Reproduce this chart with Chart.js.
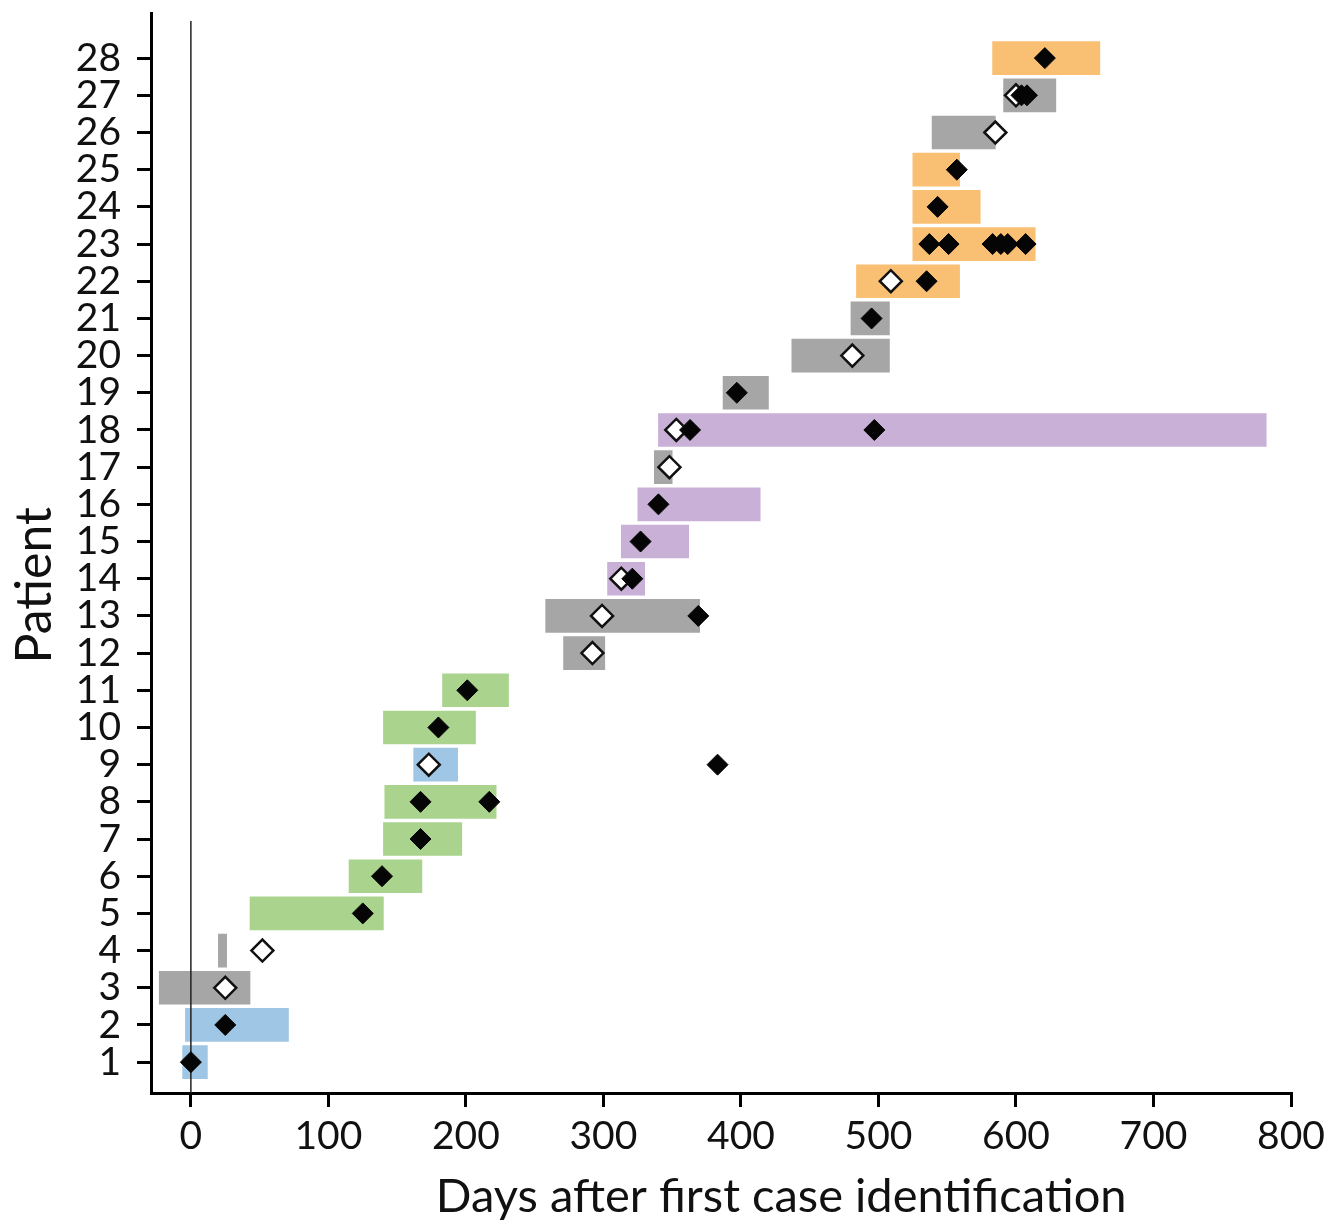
<!DOCTYPE html>
<html>
<head>
<meta charset="utf-8">
<script src="https://cdn.jsdelivr.net/npm/chart.js@4/dist/chart.umd.min.js"></script>
<style>
  html, body { margin: 0; padding: 0; background: #fff; }
  #wrap { width: 1334px; height: 1225px; }
</style>
</head>
<body>
<div id="wrap"><canvas id="chart"></canvas></div>
<script>
'use strict';

// Patients on the y axis
var patients = [1, 2, 3, 4, 5, 6, 7, 8, 9, 10, 11, 12, 13, 14, 15, 16, 17, 18, 19, 20, 21, 22, 23, 24, 25, 26, 27, 28];

// Stay bars (days after first case identification)
var barStart = [-6, -4, -23, 20, 43, 115, 140, 141, 162, 140, 183, 271, 258, 303, 313, 325, 337, 340, 387, 437, 480, 484, 525, 525, 525, 539, 591, 583];
var barEnd   = [12, 71, 43, 26, 140, 168, 197, 222, 194, 207, 231, 301, 370, 330, 362, 414, 350, 782, 420, 508, 508, 559, 614, 574, 559, 585, 629, 661];
var barGroup = ['blue', 'blue', 'gray', 'gray', 'green', 'green', 'green', 'green', 'blue', 'green', 'green', 'gray', 'gray', 'purple',
                'purple', 'purple', 'gray', 'purple', 'gray', 'gray', 'gray', 'orange', 'orange', 'orange', 'orange', 'gray', 'gray', 'orange'];

// Filled diamonds
var filledPatient = [1, 2, 5, 6, 7, 8, 8, 9, 10, 11, 13, 14, 15, 16, 18, 18, 19, 21, 22, 23, 23, 23, 23, 23, 23, 24, 25, 27, 27, 28];
var filledDay     = [0, 25, 125, 139, 167, 167, 217, 383, 180, 201, 369, 321, 327, 340, 363, 497, 397, 495, 535, 537, 551, 583, 589, 594, 607, 543, 557, 604, 608, 621];

// Open diamonds
var openPatient = [3, 4, 9, 12, 13, 14, 17, 18, 20, 22, 26, 27];
var openDay     = [25, 52, 173, 292, 299, 313, 348, 353, 481, 509, 585, 600];

// Reference line at day 0
var zeroDay = [0, 0];
var zeroPatient = [0.17, 29.0];

var xTicks = [0, 100, 200, 300, 400, 500, 600, 700, 800];

var groupColors = {
    blue: '#9fc6e4',
    gray: '#a6a6a6',
    green: '#aad48e',
    purple: '#c9b0d7',
    orange: '#f9bf73'
};

function pairs(xs, ys) {
    var out = [];
    for (var i = 0; i < xs.length; i++) {
        out.push({ x: xs[i], y: ys[i] });
    }
    return out;
}

var barData = [];
for (var i = 0; i < patients.length; i++) {
    barData.push({ x: [barStart[i], barEnd[i]], y: patients[i] });
}

var tickFont = { family: 'Lato, sans-serif', size: 39 };

// no extra label padding around the plot, margins come from layout.padding
function noEdgePadding(axis) {
    axis.paddingTop = 0;
    axis.paddingBottom = 0;
    axis.paddingLeft = 0;
    axis.paddingRight = 0;
}

var config = {
    type: 'bar',
    data: {
        datasets: [
            {
                type: 'bar',
                indexAxis: 'y',
                data: barData,
                backgroundColor: barGroup.map(function (g) { return groupColors[g]; }),
                borderWidth: 0,
                barThickness: 33,
                order: 3
            },
            {
                type: 'line',
                data: pairs(zeroDay, zeroPatient),
                borderColor: '#222',
                borderWidth: 1.5,
                pointRadius: 0,
                fill: false,
                order: 2
            },
            {
                type: 'scatter',
                data: pairs(openDay, openPatient),
                pointStyle: 'rectRot',
                pointRadius: 11,
                backgroundColor: '#ffffff',
                borderColor: '#111',
                borderWidth: 2.5,
                order: 1
            },
            {
                type: 'scatter',
                data: pairs(filledDay, filledPatient),
                pointStyle: 'rectRot',
                pointRadius: 10.5,
                backgroundColor: '#050505',
                borderColor: '#050505',
                borderWidth: 1,
                order: 0
            }
        ]
    },
    options: {
        responsive: true,
        maintainAspectRatio: false,
        animation: false,
        layout: { padding: { top: 12, right: 43, left: 0, bottom: 0 } },
        plugins: {
            legend: { display: false },
            tooltip: { enabled: false }
        },
        scales: {
            x: {
                type: 'linear',
                position: 'bottom',
                offset: false,
                min: -29,
                max: 800,
                afterBuildTicks: function (axis) {
                    axis.ticks = xTicks.map(function (v) { return { value: v }; });
                },
                afterFit: function (axis) {
                    axis.height = 132;
                    noEdgePadding(axis);
                },
                border: { display: true, color: '#000', width: 3 },
                grid: { display: true, offset: false, drawOnChartArea: false, drawTicks: true, tickLength: 14, color: '#000', lineWidth: 3 },
                ticks: { color: '#111', font: tickFont, padding: 6, maxRotation: 0, autoSkip: false },
                title: {
                    display: true,
                    // leading spaces push the centred title a bit to the right, as in the source
                    text: '          Days after first case identification',
                    color: '#111',
                    font: { family: 'Lato, sans-serif', size: 47 },
                    padding: { top: 0, bottom: 0 }
                }
            },
            y: {
                type: 'linear',
                position: 'left',
                offset: false,
                min: 0.17,
                max: 29.2,
                afterBuildTicks: function (axis) {
                    axis.ticks = patients.map(function (v) { return { value: v }; });
                },
                afterFit: function (axis) {
                    axis.width = 151;
                    noEdgePadding(axis);
                },
                border: { display: true, color: '#000', width: 3 },
                grid: { display: true, offset: false, drawOnChartArea: false, drawTicks: true, tickLength: 14, color: '#000', lineWidth: 3 },
                ticks: { color: '#111', font: tickFont, padding: 16, autoSkip: false },
                title: {
                    display: true,
                    text: 'Patient     ',
                    color: '#111',
                    font: { family: 'Lato, sans-serif', size: 50 },
                    padding: { top: 5, bottom: 0 }
                }
            }
        }
    }
};

new Chart(document.getElementById('chart').getContext('2d'), config);
</script>
</body>
</html>
